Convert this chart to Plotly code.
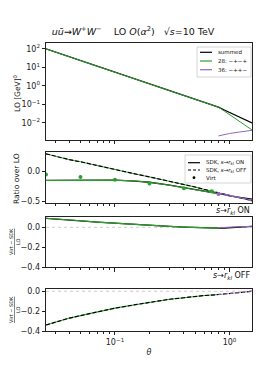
import plotly.graph_objects as go

# ---------------- data ----------------
theta = [0.025, 0.03, 0.04, 0.05, 0.07, 0.1, 0.15, 0.2, 0.3, 0.4, 0.5, 0.6, 0.7, 0.8,
         0.9, 1.0, 1.2, 1.4, 1.57]
theta_h28 = [0.025, 0.03, 0.04, 0.05, 0.07, 0.1, 0.15, 0.2, 0.3, 0.4, 0.5, 0.6, 0.7, 0.8]
theta_h36 = [0.8, 0.9, 1.0, 1.2, 1.4, 1.57]

# panel 1: LO
lo_summed = [100, 68.3, 37.5, 23.5, 11.6, 5.5, 2.36, 1.30, 0.55, 0.30, 0.19, 0.13, 0.094, 0.071,
             0.050, 0.037, 0.022, 0.014, 0.010]
lo_h28 = [100, 68.3, 37.5, 23.5, 11.6, 5.5, 2.36, 1.30, 0.55, 0.30, 0.19, 0.13, 0.094, 0.071,
          0.044, 0.028, 0.013, 0.0068, 0.0042]
lo_h36 = [0.0020, 0.0024, 0.0027, 0.0032, 0.0036, 0.0040]

# panel 2: ratio over LO
sdk_on_sum = [-0.15, -0.149, -0.148, -0.147, -0.146, -0.145, -0.16, -0.18, -0.23, -0.27, -0.30,
              -0.33, -0.355, -0.375, -0.39, -0.41, -0.43, -0.45, -0.465]
sdk_off_sum = [0.30, 0.26, 0.20, 0.165, 0.10, 0.03, -0.04, -0.09, -0.16, -0.22, -0.26, -0.30,
               -0.33, -0.36, -0.385, -0.41, -0.44, -0.47, -0.49]
sdk_on_h28 = sdk_on_sum[:14]
sdk_off_h28 = sdk_off_sum[:14]
sdk_on_h36 = [-0.36, -0.38, -0.40, -0.43, -0.46, -0.48]
sdk_off_h36 = [-0.37, -0.39, -0.41, -0.44, -0.47, -0.50]
theta_virt28 = [0.025, 0.05, 0.1, 0.2, 0.4, 0.7]
virt_h28 = [-0.05, -0.09, -0.14, -0.20, -0.28, -0.33]
theta_virt36 = [0.8]
virt_h36 = [-0.38]

# panel 3: (Virt-SDK)/LO, s->r_kl ON
diff_on_sum = [0.09, 0.085, 0.075, 0.065, 0.052, 0.04, 0.028, 0.02, 0.009, 0.002, -0.003, -0.006,
               -0.008, -0.008, -0.007, -0.005, 0.0, 0.005, 0.01]
diff_on_h28 = diff_on_sum[:14]
diff_on_h36 = [-0.004, -0.001, 0.002, 0.006, 0.008, 0.01]

# panel 4: (Virt-SDK)/LO, s->r_kl OFF
diff_off_sum = [-0.34, -0.31, -0.27, -0.245, -0.205, -0.17, -0.135, -0.11, -0.08, -0.065, -0.05,
                -0.043, -0.038, -0.033, -0.029, -0.025, -0.016, -0.007, 0.0]
diff_off_h28 = diff_off_sum[:14]
diff_off_h36 = [-0.033, -0.029, -0.024, -0.015, -0.006, 0.005]

# ---------------- style ----------------
BLACK = "#000000"
GREEN = "#2ca02c"
PURPLE = "#9467bd"
FONT = "DejaVu Sans"
W, H = 266, 372
ML, MR, MT, MB = 46, 14, 43, 41
PW, PH = W - ML - MR, H - MT - MB


def px2x(px):
    return (px - ML) / PW


def px2y(py):
    return (H - MB - py) / PH


fig = go.Figure()


def line(x, y, color, ax, dash="solid", width=1.2):
    fig.add_trace(go.Scatter(x=x, y=y, mode="lines", line=dict(color=color, width=width, dash=dash),
                             xaxis=ax[0], yaxis=ax[1], showlegend=False, hoverinfo="skip"))


# panel 1
line(theta, lo_summed, BLACK, ("x", "y"), width=1.3)
line(theta, lo_h28, GREEN, ("x", "y"), width=1.0)
line(theta_h36, lo_h36, PURPLE, ("x", "y"), width=1.0)

# panel 2
line(theta, sdk_on_sum, BLACK, ("x2", "y2"), width=1.3)
line(theta_h28, sdk_off_h28, GREEN, ("x2", "y2"), width=1.0)
line(theta, sdk_off_sum, BLACK, ("x2", "y2"), dash="4px,2px", width=1.2)
line(theta_h28, sdk_on_h28, GREEN, ("x2", "y2"), width=1.1)
line(theta_h36, sdk_on_h36, PURPLE, ("x2", "y2"), width=1.0)
line(theta_h36, sdk_off_h36, PURPLE, ("x2", "y2"), dash="4px,2px", width=1.0)
fig.add_trace(go.Scatter(x=theta_virt28, y=virt_h28, mode="markers",
                         marker=dict(color=GREEN, size=4), xaxis="x2", yaxis="y2",
                         showlegend=False, hoverinfo="skip"))
fig.add_trace(go.Scatter(x=theta_virt36, y=virt_h36, mode="markers",
                         marker=dict(color=PURPLE, size=4), xaxis="x2", yaxis="y2",
                         showlegend=False, hoverinfo="skip"))

# panel 3
line(theta, diff_on_sum, BLACK, ("x3", "y3"), width=1.3)
line(theta_h28, diff_on_h28, GREEN, ("x3", "y3"), width=1.1)
line(theta_h36, diff_on_h36, PURPLE, ("x3", "y3"), width=1.0)

# panel 4
line(theta_h28, diff_off_h28, GREEN, ("x4", "y4"), width=1.1)
line(theta, diff_off_sum, BLACK, ("x4", "y4"), dash="4px,2px", width=1.2)
line(theta_h36, diff_off_h36, PURPLE, ("x4", "y4"), dash="4px,2px", width=1.0)

# ---------------- axes ----------------
minor_vals = [k * 10 ** e for e in (-2, -1, 0) for k in range(2, 10)]
xcommon = dict(type="log", range=[-1.602, 0.196], showline=True, mirror=True, linecolor="#222",
               linewidth=0.8, ticks="outside", ticklen=3.5, tickwidth=0.8, tickcolor="#222",
               tickmode="array", tickvals=[0.1, 1],
               minor=dict(ticks="outside", ticklen=2, tickwidth=0.6, tickcolor="#222",
                          tickmode="array", tickvals=minor_vals),
               showgrid=False, zeroline=False,
               tickfont=dict(family=FONT, size=8, color="#222"))
ycommon = dict(showline=True, mirror=True, linecolor="#222", linewidth=0.8, ticks="outside",
               ticklen=3.5, tickwidth=0.8, tickcolor="#222", showgrid=False, zeroline=False,
               tickfont=dict(family=FONT, size=8, color="#222"), tickmode="array")

d1 = [px2y(140), 1.0]
d2 = [px2y(203), px2y(152)]
d3 = [px2y(267.3), px2y(216.7)]
d4 = [0.0, px2y(289)]

fig.update_layout(
    xaxis=dict(xcommon, anchor="y", showticklabels=False),
    xaxis2=dict(xcommon, anchor="y2", matches="x", showticklabels=False),
    xaxis3=dict(xcommon, anchor="y3", matches="x", showticklabels=False),
    xaxis4=dict(xcommon, anchor="y4", matches="x",
                ticktext=["10<sup>−1</sup>", "10<sup>0</sup>"],
                title=dict(text="<i>θ</i>", font=dict(family=FONT, size=8, color="#222"),
                           standoff=3)),
    yaxis=dict(ycommon, domain=d1, anchor="x", type="log", range=[-2.92, 2.32],
               tickvals=[0.01, 0.1, 1, 10, 100],
               ticktext=["10<sup>−2</sup>", "10<sup>−1</sup>", "10<sup>0</sup>",
                         "10<sup>1</sup>", "10<sup>2</sup>"]),
    yaxis2=dict(ycommon, domain=d2, anchor="x2", range=[-0.53, 0.33],
                tickvals=[0.0, -0.5], ticktext=["0.0", "−0.5"]),
    yaxis3=dict(ycommon, domain=d3, anchor="x3", range=[-0.4, 0.106],
                tickvals=[0.0, -0.2, -0.4], ticktext=["0.0", "−0.2", "−0.4"]),
    yaxis4=dict(ycommon, domain=d4, anchor="x4", range=[-0.4, 0.023],
                tickvals=[0.0, -0.2, -0.4], ticktext=["0.0", "−0.2", "−0.4"]),
)

# zero lines in panels 3 and 4
for yr in ("y3", "y4"):
    fig.add_shape(type="line", xref="paper", yref=yr, x0=0, x1=1, y0=0, y1=0,
                  line=dict(color="#aaaaaa", width=0.6, dash="dot"), layer="below")

# ---------------- texts ----------------
ann = []
title = ("<i>uū</i>→<i>W</i><sup>+</sup><i>W</i><sup>−</sup>&nbsp;&nbsp;&nbsp;&nbsp;LO "
         "<i>O</i>(<i>α</i><sup>2</sup>)&nbsp;&nbsp;&nbsp;√<i>s</i>=10 TeV")
fig.update_layout(title=dict(text=title, x=0.5, xref="container", xanchor="center",
                             y=1 - 32 / H, yref="container", yanchor="middle",
                             font=dict(family=FONT, size=9.5, color="#111")))

ann.append(dict(text="LO [GeV]<sup>0</sup>", x=px2x(17), y=px2y(94), textangle=-90,
                font=dict(size=7.5)))
ann.append(dict(text="Ratio over LO", x=px2x(16), y=px2y(179), textangle=-90,
                font=dict(size=7.5)))
frac = "<u>Virt − SDK</u><br>LO"
ann.append(dict(text=frac, x=px2x(14), y=px2y(242), textangle=-90, font=dict(size=5)))
ann.append(dict(text=frac, x=px2x(14), y=px2y(310), textangle=-90, font=dict(size=5)))
ann.append(dict(text="<i>s</i>→<i>r</i><sub><i>kl</i></sub> ON", x=1.0, y=px2y(211),
                xanchor="right", font=dict(size=8)))
ann.append(dict(text="<i>s</i>→<i>r</i><sub><i>kl</i></sub> OFF", x=1.0, y=px2y(276),
                xanchor="right", font=dict(size=8)))

shapes = []
# legend 1
shapes.append(dict(type="rect", xref="paper", yref="paper", x0=px2x(197), x1=px2x(251),
                   y0=px2y(77), y1=px2y(47), line=dict(color="#cccccc", width=0.8),
                   fillcolor="rgba(255,255,255,0.85)"))
leg1 = [("summed", BLACK, "solid", 52.3), ("28: −+−+", GREEN, "solid", 61),
        ("36: −++−", PURPLE, "solid", 69.7)]
for txt, col, dash, yy in leg1:
    shapes.append(dict(type="line", xref="paper", yref="paper", x0=px2x(200), x1=px2x(212),
                       y0=px2y(yy), y1=px2y(yy), line=dict(color=col, width=1.2, dash=dash)))
    ann.append(dict(text=txt, x=px2x(216), y=px2y(yy), xanchor="left", font=dict(size=5.5)))

# legend 2
shapes.append(dict(type="rect", xref="paper", yref="paper", x0=px2x(185), x1=px2x(251),
                   y0=px2y(183), y1=px2y(155), line=dict(color="#cccccc", width=0.8),
                   fillcolor="rgba(255,255,255,0.85)"))
leg2 = [("SDK, <i>s</i>→<i>r</i><sub><i>kl</i></sub> ON", "solid", 162.7),
        ("SDK, <i>s</i>→<i>r</i><sub><i>kl</i></sub> OFF", "3px,2px", 170)]
for txt, dash, yy in leg2:
    shapes.append(dict(type="line", xref="paper", yref="paper", x0=px2x(188), x1=px2x(200),
                       y0=px2y(yy), y1=px2y(yy), line=dict(color=BLACK, width=1.2, dash=dash)))
    ann.append(dict(text=txt, x=px2x(204), y=px2y(yy), xanchor="left", font=dict(size=5.5)))
shapes.append(dict(type="circle", xref="paper", yref="paper", x0=px2x(192.6), x1=px2x(195.4),
                   y0=px2y(179.1), y1=px2y(176.3), line=dict(width=0), fillcolor=BLACK))
ann.append(dict(text="Virt", x=px2x(204), y=px2y(177.7), xanchor="left", font=dict(size=5.5)))

for a in ann:
    a.setdefault("xref", "paper")
    a.setdefault("yref", "paper")
    a.setdefault("showarrow", False)
    a.setdefault("xanchor", "center")
    a.setdefault("yanchor", "middle")
    a["font"] = dict(family=FONT, color="#111", **a["font"])
for s in shapes:
    fig.add_shape(**s)

fig.update_layout(annotations=ann, width=W, height=H,
                  margin=dict(l=ML, r=MR, t=MT, b=MB, pad=0),
                  paper_bgcolor="white", plot_bgcolor="white", showlegend=False)

fig.write_html("out.html", config={"displayModeBar": False},
               post_script="document.body.style.margin='0';document.body.style.overflow='hidden';")
